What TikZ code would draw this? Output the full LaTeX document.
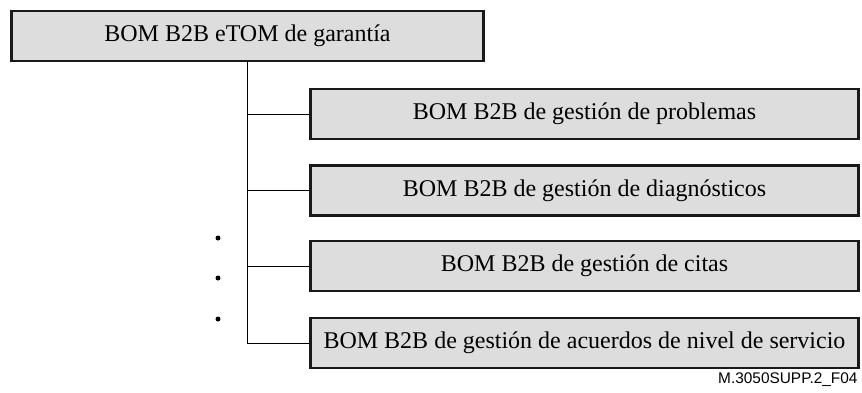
\documentclass[tikz,border=0pt]{standalone}
\usepackage{fontspec}
\setmainfont{Liberation Serif}
\newfontfamily\figlabel{Liberation Sans}
\definecolor{boxgray}{RGB}{221,221,221}
\tikzset{bom/.style={rectangle,draw=black!90,line width=1.4pt,fill=boxgray,inner sep=0pt,font=\fontsize{12pt}{14pt}\selectfont}}
\tikzset{sub/.style={bom,minimum width=274pt,minimum height=25pt}}
\tikzset{dot/.style={circle,fill=black,inner sep=0pt,minimum size=2.5pt}}

\begin{document}
\begin{tikzpicture}[x=0.5pt,y=-0.5pt,line width=0.5pt]
      \useasboundingbox (0,0) rectangle (862,392);
      \node[bom,minimum width=236pt,minimum height=25pt] (top) at (247.5,36) {BOM B2B eTOM de garantía};
      \node[sub] (p1) at (584.5,114) {BOM B2B de gestión de problemas};
      \node[sub] (p2) at (584.5,190.5) {BOM B2B de gestión de diagnósticos};
      \node[sub] (p3) at (584.5,266) {BOM B2B de gestión de citas};
      \node[sub] (p4) at (584.5,343) {BOM B2B de gestión de acuerdos de nivel de servicio};
      \node[dot] (d1) at (218,238) {};
      \node[dot] (d2) at (218,278) {};
      \node[dot] (d3) at (218,319) {};
      \node[anchor=south east,inner sep=0pt,font=\figlabel\fontsize{7.7pt}{9pt}\selectfont] (fig) at (858,387) {M.3050SUPP.2\_F04};
        \draw (top.south) |- (p4.west);
        \draw (top.south |- p1.west) -- (p1.west);
        \draw (top.south |- p2.west) -- (p2.west);
        \draw (top.south |- p3.west) -- (p3.west);
    \end{tikzpicture}
\end{document}
